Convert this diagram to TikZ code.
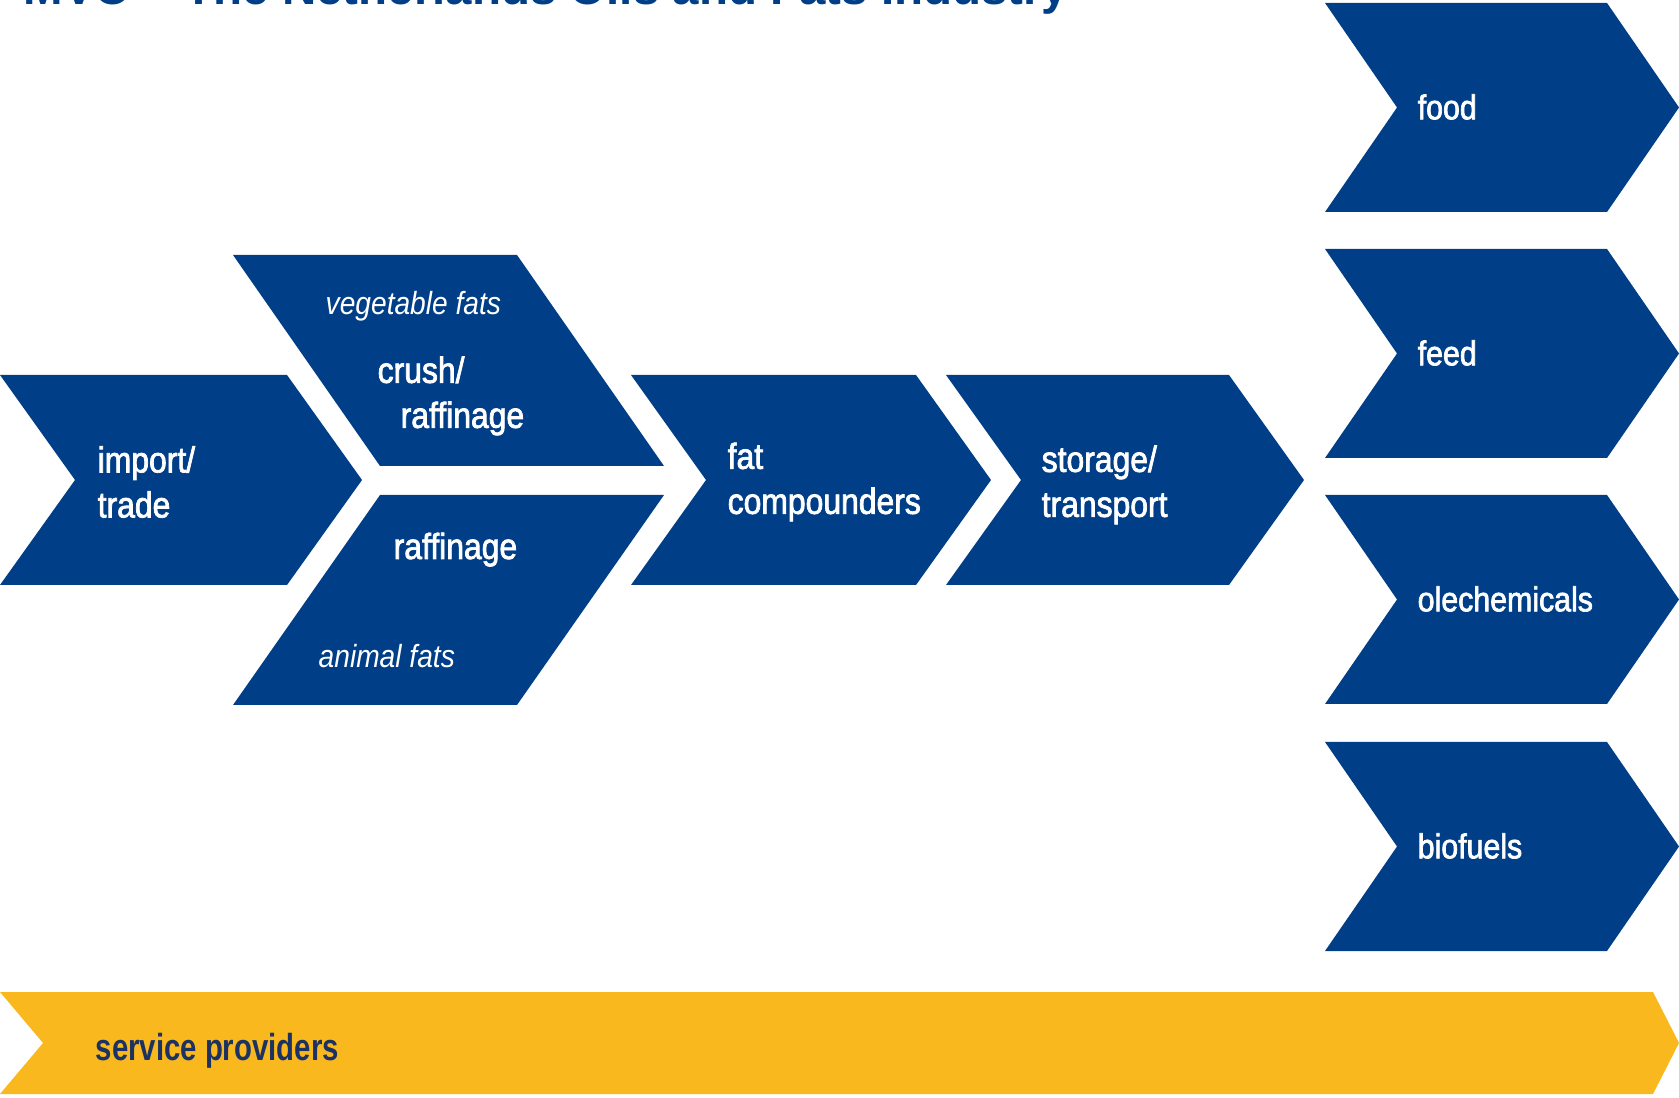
\documentclass[tikz,border=0pt]{standalone}
\usepackage{fontspec}
\setmainfont{Liberation Sans}
\newfontfamily\lblfont[FakeStretch=0.88,FakeBold=2]{Liberation Sans}
\newfontfamily\notefont[FakeStretch=0.88]{Liberation Sans}
\newfontfamily\svcfont[FakeStretch=0.78]{Liberation Sans}
\definecolor{mvoblue}{RGB}{0,63,135}
\definecolor{mvoyellow}{RGB}{249,185,30}
\definecolor{mvonavy}{RGB}{27,50,98}

\begin{document}
\begin{tikzpicture}
[
x=0.01cm, y=-0.01cm,
block/.style={fill=mvoblue},
lbl/.style={text=white,inner sep=0pt,align=left,
            font=\lblfont\fontsize{10.3}{12.8}\selectfont},
outlbl/.style={lbl,font=\lblfont\fontsize{9.8}{12}\selectfont},
note/.style={text=white,inner sep=0pt,
            font=\notefont\itshape\fontsize{9.1}{11}\selectfont},
]
\path[use as bounding box] (0,0) rectangle (1679,1098);
\clip (0,0) rectangle (1679,1098);

%Title, cut by the top edge
\node[anchor=base west,inner sep=0pt,text=mvoblue,
      font=\bfseries\fontsize{13.5}{16}\selectfont] (title) at (23,5)
      {MVO – The Netherlands Oils and Fats Industry};

%Main chain
\fill[block] (0,375) -- (287,375) -- (362,480) -- (287,585) -- (0,585) -- (75,480) -- cycle;
\fill[block] (233,255) -- (517,255) -- (664,466) -- (380,466) -- cycle;
\fill[block] (380,495) -- (664,495) -- (517,705) -- (233,705) -- cycle;
\fill[block] (631,375) -- (916,375) -- (991,480) -- (916,585) -- (631,585) -- (706,480) -- cycle;
\fill[block] (946,375) -- (1229,375) -- (1304,480) -- (1229,585) -- (946,585) -- (1021,480) -- cycle;

\node[lbl,anchor=west] (import) at (97,482) {import/\\trade};
\node[note,anchor=base west] (vegfats) at (325,315) {vegetable fats};
\node[lbl,anchor=west] (crush) at (377,396) {crush/\\\hspace*{0.23cm}raffinage};
\node[lbl,anchor=base west] (raff) at (393,559) {raffinage};
\node[note,anchor=base west] (animfats) at (318,668) {animal fats};
\node[lbl,anchor=west] (compound) at (727,482) {fat\\compounders};
\node[lbl,anchor=west] (storage) at (1041,485) {storage/\\transport};

%Outlets
\foreach \y/\t in {3/food,249/feed,495/olechemicals,742/biofuels}
{
  \fill[block] (1325,\y) -- ++(282,0) -- ++(72,104.5) -- ++(-72,104.5) -- ++(-282,0) -- ++(72,-104.5) -- cycle;
  \node[outlbl,anchor=west] (\t) at (1417,\y+104) {\t};
}

%Service band
\fill[mvoyellow] (0,992) -- (1653,992) -- (1679,1043) -- (1653,1094) -- (0,1094) -- (43,1043) -- cycle;
\node[anchor=base west,inner sep=0pt,text=mvonavy,
      font=\svcfont\bfseries\fontsize{10.7}{12}\selectfont] (service) at (95,1060) {service providers};
\end{tikzpicture}
\end{document}
